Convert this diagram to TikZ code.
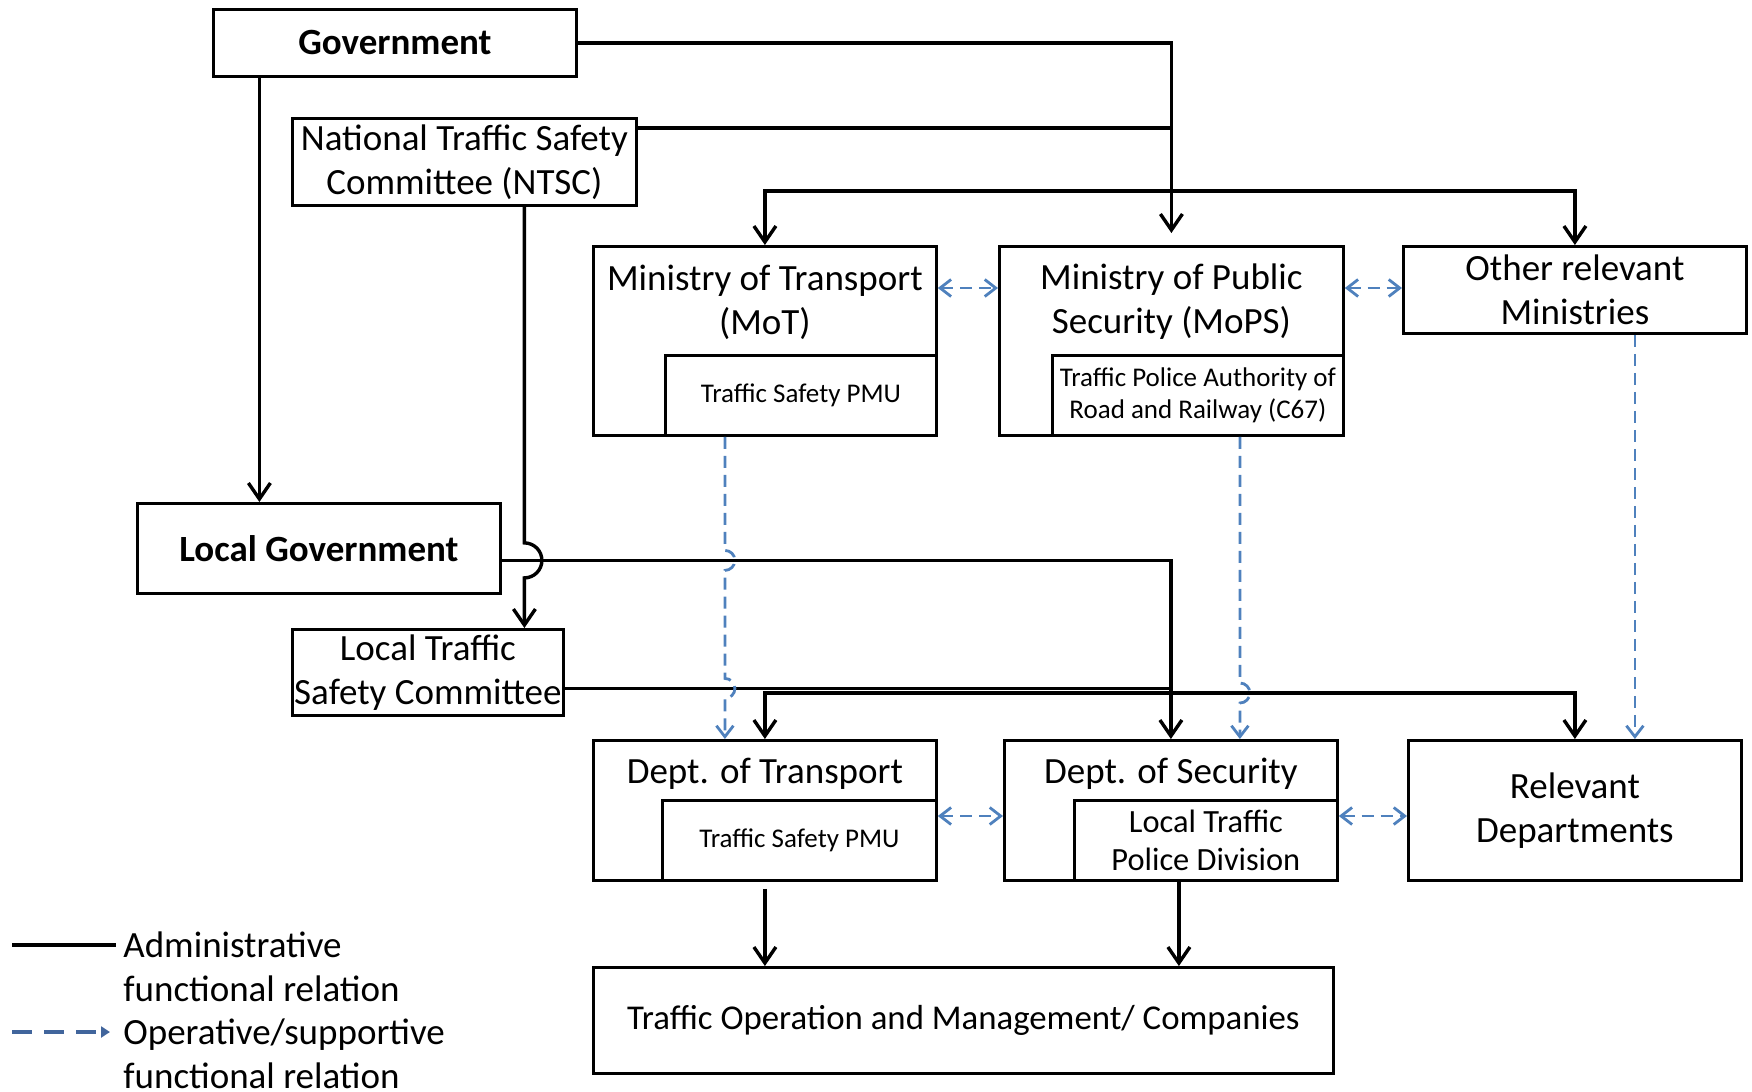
\documentclass[tikz,border=0pt]{standalone}
\usepackage{fontspec}
\setmainfont{Carlito}
\usepackage{tikz}
\usetikzlibrary{arrows.meta, positioning, calc}
\definecolor{opblue}{HTML}{4F81BD}
\definecolor{legblue}{HTML}{41659C}

\begin{document}
\begin{tikzpicture}[
    x=0.5pt, y=0.5pt,
    box/.style={draw, line width=1.4pt, anchor=north west, inner sep=0pt,
                align=center, font=\fontsize{18.5}{22}\selectfont},
    subbox/.style={draw, line width=1.4pt, anchor=south east, inner sep=0pt,
                align=center, font=\fontsize{13.5}{16}\selectfont},
    headtext/.style={inner sep=0pt, align=center, font=\fontsize{18.5}{22}\selectfont},
    legtext/.style={anchor=west, inner sep=0pt, align=left, font=\fontsize{18.5}{22}\selectfont},
    adm/.style={line width=1.7pt, -{Straight Barb[length=8pt, width=11pt]}},
    admline/.style={line width=1.7pt},
    op/.style={opblue, line width=1.4pt, dash pattern=on 6pt off 3.5pt,
               -{Straight Barb[length=5.5pt, width=8.5pt]}},
    optwo/.style={op, {Straight Barb[length=5.5pt, width=8.5pt]}-{Straight Barb[length=5.5pt, width=8.5pt]}},
  ]
  \useasboundingbox (0,0) rectangle (1752,-1092);

  % National level
  \node[box, font=\bfseries\fontsize{18.5}{22}\selectfont, minimum width=181.5pt, minimum height=33.5pt] (gov) at (212,-8) {Government};
  \node[box, minimum width=172pt, minimum height=43.5pt] (ntsc) at (291,-117) {National Traffic Safety\\Committee (NTSC)};

  % Ministries
  \node[box, minimum width=171.5pt, minimum height=94.5pt] (mot) at (592,-245) {};
  \node[headtext] (mottitle) at ($(mot.north)+(0,-57)$) {Ministry of Transport\\(MoT)};
  \node[subbox, minimum width=135.5pt, minimum height=40pt] (motpmu) at (mot.south east) {Traffic Safety PMU};

  \node[box, minimum width=172pt, minimum height=94.5pt] (mops) at (998,-245) {};
  \node[headtext] (mopstitle) at ($(mops.north)+(0,-57)$) {Ministry of Public\\Security (MoPS)};
  \node[subbox, minimum width=145.5pt, minimum height=40pt] (c67) at (mops.south east) {Traffic Police Authority of\\Road and Railway (C67)};

  \node[box, minimum width=171.5pt, minimum height=43.5pt] (other) at (1402,-245) {Other relevant\\Ministries};

  % Local level
  \node[box, font=\bfseries\fontsize{18.5}{22}\selectfont, minimum width=181.5pt, minimum height=45pt] (lgov) at (136,-502) {Local Government};
  \node[box, minimum width=135.5pt, minimum height=43pt] (ltsc) at (291,-628) {};
  \node[headtext] (ltsctext) at (ltsc.center) {Local Traffic\\Safety Committee};

  % Departments
  \node[box, minimum width=171.5pt, minimum height=70pt] (dtrans) at (592,-739) {};
  \node[headtext] (dtranstitle) at ($(dtrans.north)+(0,-35)$) {Dept. of Transport};
  \node[subbox, minimum width=137pt, minimum height=40pt] (dtranspmu) at (dtrans.south east) {Traffic Safety PMU};

  \node[box, minimum width=166.5pt, minimum height=70pt] (dsec) at (1003,-739) {};
  \node[headtext] (dsectitle) at ($(dsec.north)+(0,-35)$) {Dept. of Security};
  \node[subbox, font=\fontsize{16.2}{19}\selectfont, minimum width=131.5pt, minimum height=40pt] (dsecdiv) at (dsec.south east) {Local Traffic\\Police Division};

  \node[box, minimum width=166.5pt, minimum height=70pt] (reldept) at (1407,-739) {Relevant\\Departments};

  \node[box, font=\fontsize{17.4}{22}\selectfont, minimum width=370pt, minimum height=53pt] (ops) at (592,-966) {Traffic Operation and Management/ Companies};

  % Administrative relations, top
  \draw[adm] (gov.east) -| ([yshift=6pt]mops.north);
  \coordinate (ntscout) at ([yshift=-5.5pt]ntsc.north east);
  \draw[admline] (ntscout) -- (ntscout -| mops.north);
  \coordinate (topbus) at ($(mops.north)+(0,54)$);
  \draw[adm] (topbus) -| (mot.north);
  \draw[adm] (topbus) -| (other.north);

  % Administrative relations, local
  \coordinate (govdown) at ([xshift=-67.75pt]gov.south);
  \draw[adm] (govdown) -- (govdown |- lgov.north);
  \coordinate (lgout) at ([yshift=-6pt]lgov.east);
  \draw[adm] (lgout) -| (dsec.north);
  \coordinate (ltscout) at ([yshift=-8pt]ltsc.east);
  \draw[admline] (ltscout) -- (ltscout -| dsec.north);
  \coordinate (botbus) at ($(dsec.north)+(0,46)$);
  \draw[adm] (botbus) -| (dtrans.north);
  \draw[adm] (botbus) -| (reldept.north);
  \coordinate (ntscdown) at ([xshift=30pt]ntsc.south);
  \draw[adm] (ntscdown) -- ($(ntscdown |- lgout)+(0,17.5)$)
    arc[start angle=90, end angle=-90, radius=8.75pt] -- (ntscdown |- ltsc.north);

  % Operative relations
  \coordinate (motdash) at ([xshift=-38pt]motpmu.south);
  \draw[op] (motdash) -- ($(motdash |- lgout)+(0,10)$)
    arc[start angle=90, end angle=-90, radius=5pt] -- ($(motdash |- ltscout)+(0,10)$)
    arc[start angle=90, end angle=-90, radius=5pt] -- (motdash |- dtrans.north);
  \coordinate (c67dash) at ([xshift=21pt]c67.south);
  \draw[op] (c67dash) -- ($(c67dash |- botbus)+(0,10)$)
    arc[start angle=90, end angle=-90, radius=5pt] -- (c67dash |- dsec.north);
  \coordinate (otherdash) at ([xshift=30pt]other.south);
  \draw[op] (otherdash) -- (otherdash |- reldept.north);

  \draw[optwo] ([yshift=-21.5pt]mot.north east) -- ([yshift=-21.5pt]mops.north west);
  \draw[optwo] ([yshift=-21.5pt]mops.north east) -- ([yshift=-21.5pt]other.north west);
  \draw[optwo] ([yshift=-38.5pt]dtrans.north east) -- ([yshift=-38.5pt]dsec.north west);
  \draw[optwo] ([yshift=-38.5pt]dsec.north east) -- ([yshift=-38.5pt]reldept.north west);

  % Down to operators
  \coordinate (dtransout) at ([yshift=-3.5pt]dtrans.south);
  \draw[adm] (dtransout) -- (dtransout |- ops.north);
  \coordinate (dsecout) at ([xshift=4pt]dsec.south);
  \draw[adm] (dsecout) -- (dsecout |- ops.north);

  % Legend
  \coordinate (legadmA) at (12,-945);
  \coordinate (legadmB) at (116,-945);
  \draw[line width=2pt] (legadmA) -- (legadmB);
  \node[legtext] (legadm) at (123,-967) {Administrative\\functional relation};
  \coordinate (legopA) at (12,-1032);
  \coordinate (legopB) at (110,-1032);
  \draw[legblue, line width=1.6pt, dash pattern=on 10pt off 6pt,
        -{Triangle[length=4.5pt, width=5.5pt]}] (legopA) -- (legopB);
  \node[legtext] (legop) at (123,-1054) {Operative/supportive\\functional relation};

\end{tikzpicture}
\end{document}
